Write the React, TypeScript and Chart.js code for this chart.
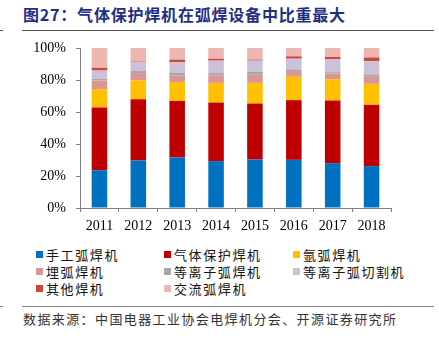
import React, { useEffect, useRef } from "react";
import { Chart, registerables } from "chart.js";

Chart.register(...registerables);

const years = ["2011", "2012", "2013", "2014", "2015", "2016", "2017", "2018"];
const seriesNames = ["手工弧焊机", "气体保护焊机", "氩弧焊机", "埋弧焊机", "等离子弧焊机", "等离子弧切割机", "其他焊机", "交流弧焊机"];
const seriesColors = ["#0070C0", "#C00000", "#FFC000", "#DA9694", "#A6A6A6", "#CCC0DA", "#D0473A", "#EDB6B0"];

const manualArc = [23.6, 29.7, 31.6, 29.3, 30.3, 30.1, 28.0, 26.2];
const gasShielded = [39.2, 38.3, 35.3, 36.6, 35.0, 37.3, 39.2, 38.4];
const argonArc = [11.5, 11.7, 11.8, 12.3, 12.9, 14.6, 13.3, 13.0];
const submergedArc = [5.4, 4.6, 4.1, 4.6, 5.1, 3.6, 3.6, 4.4];
const plasmaWeld = [1.2, 1.3, 1.7, 1.5, 1.8, 1.0, 0.8, 1.5];
const plasmaCut = [5.0, 5.6, 6.7, 7.8, 7.0, 6.7, 8.0, 8.3];
const others = [1.7, 0.3, 1.5, 1.2, 0.6, 1.5, 1.5, 2.3];
const acArc = [12.4, 8.5, 7.3, 6.7, 7.3, 5.2, 5.6, 5.9];

const seriesValues = [manualArc, gasShielded, argonArc, submergedArc, plasmaWeld, plasmaCut, others, acArc];
const yTicks = [0, 20, 40, 60, 80, 100];

const cjk = '"Noto Sans CJK SC", "Noto Sans", sans-serif';
const serif = '"Liberation Serif", "DejaVu Serif", serif';

export default function App() {
  const ref = useRef<HTMLCanvasElement>(null);

  useEffect(() => {
    if (!ref.current) return;
    const chart = new Chart(ref.current, {
      type: "bar",
      data: {
        labels: years,
        datasets: seriesNames.map((name, i) => ({
          label: name,
          data: seriesValues[i],
          backgroundColor: seriesColors[i],
          borderWidth: 0,
          categoryPercentage: 1,
          barPercentage: 0.4,
        })),
      },
      options: {
        responsive: false,
        animation: false,
        layout: { padding: { left: 0, right: 48, top: 48, bottom: 0 } },
        plugins: { legend: { display: false }, tooltip: { enabled: false } },
        scales: {
          x: {
            stacked: true,
            grid: { display: true, drawOnChartArea: false, drawTicks: true, tickLength: 4, color: "#7f7f7f", offset: true },
            border: { display: true, color: "#7f7f7f", width: 1 },
            ticks: { font: { family: serif, size: 14 }, color: "#000", padding: 6, maxRotation: 0 },
            afterFit: (s: any) => { s.height = 32; },
          },
          y: {
            stacked: true,
            min: 0,
            max: 100,
            afterBuildTicks: (s: any) => { s.ticks = yTicks.map((v) => ({ value: v })); },
            grid: { display: true, drawOnChartArea: false, drawTicks: true, tickLength: 4, color: "#7f7f7f" },
            border: { display: true, color: "#7f7f7f", width: 1 },
            ticks: { font: { family: serif, size: 14 }, color: "#000", padding: 10, callback: (v: any) => v + "%" },
            afterFit: (s: any) => { s.width = 80; },
          },
        },
      },
    });
    return () => chart.destroy();
  }, []);

  const legendCols = [36, 164, 293];
  const legendRows = [254, 271, 288];

  return (
    <div style={{ position: "absolute", left: 0, top: 0, width: 439, height: 342, background: "#fff", overflow: "hidden" }}>
      <div style={{ position: "absolute", left: 23, top: 4, fontFamily: cjk, fontWeight: 700, fontSize: 16, letterSpacing: 0.8, color: "#1e2f84", whiteSpace: "nowrap", lineHeight: "20px" }}>
        图27：气体保护焊机在弧焊设备中比重最大
      </div>
      <div style={{ position: "absolute", left: 22, top: 30, width: 412, height: 1, background: "#555" }} />
      <div style={{ position: "absolute", left: 0, top: 30, width: 3, height: 1, background: "#555" }} />
      <canvas ref={ref} width={439} height={240} style={{ position: "absolute", left: 0, top: 0, width: 439, height: 240 }} />
      {seriesNames.map((name, i) => {
        const col = legendCols[i % 3];
        const row = legendRows[Math.floor(i / 3)];
        return (
          <div key={name} style={{ position: "absolute", left: col, top: row - 9, height: 18, display: "flex", alignItems: "center", whiteSpace: "nowrap" }}>
            <span style={{ display: "inline-block", width: 7, height: 7, background: seriesColors[i], marginRight: 3 }} />
            <span style={{ fontFamily: cjk, fontSize: 13, letterSpacing: 1.6, color: "#111" }}>{name}</span>
          </div>
        );
      })}
      <div style={{ position: "absolute", left: 22, top: 306, width: 412, height: 1, background: "#888" }} />
      <div style={{ position: "absolute", left: 0, top: 306, width: 3, height: 1, background: "#888" }} />
      <div style={{ position: "absolute", left: 23, top: 310, fontFamily: cjk, fontSize: 13, letterSpacing: 1.4, color: "#333", whiteSpace: "nowrap", lineHeight: "18px" }}>
        数据来源：中国电器工业协会电焊机分会、开源证券研究所
      </div>
    </div>
  );
}
